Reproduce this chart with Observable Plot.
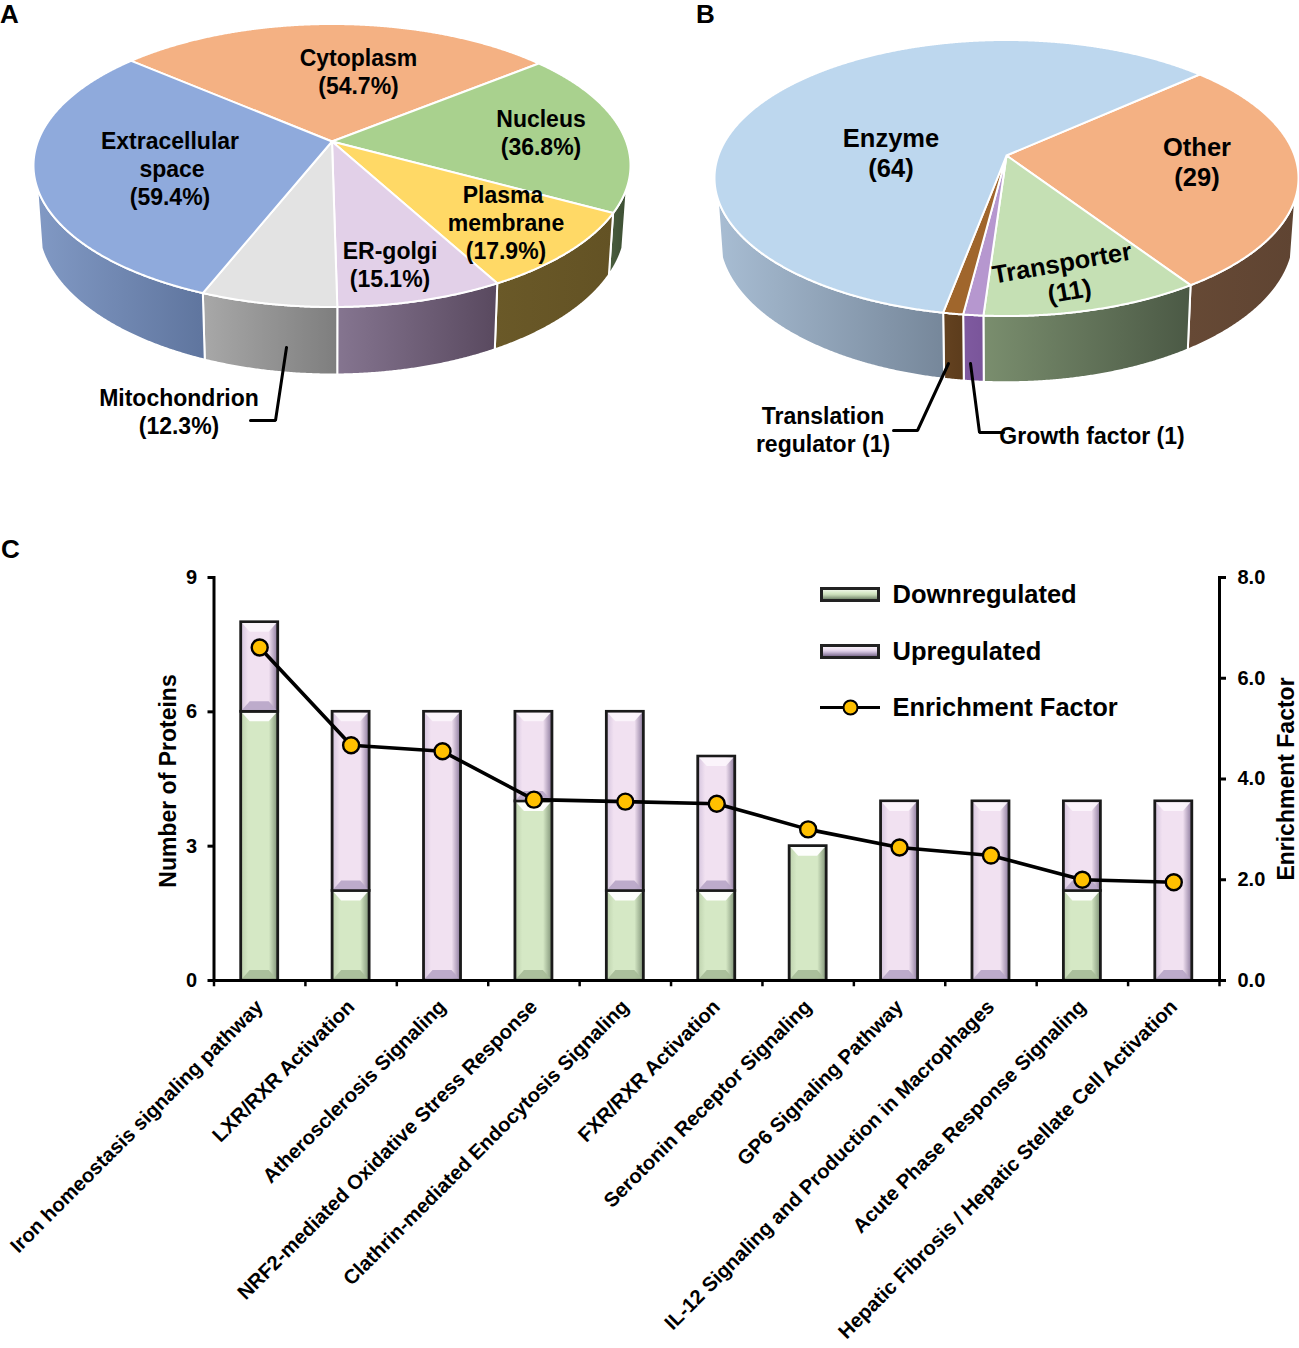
<!DOCTYPE html>
<html>
<head>
<meta charset="utf-8">
<script src="https://cdn.jsdelivr.net/npm/d3@7"></script>
<script src="https://cdn.jsdelivr.net/npm/@observablehq/plot@0.6"></script>
<style>
  html, body { margin: 0; padding: 0; background: #fff; }
  #page { position: relative; width: 1299px; height: 1348px; font-family: "Liberation Sans", Arial, sans-serif; font-weight: bold; color: #000; overflow: hidden; }
  #page svg { display: block; position: absolute; overflow: visible; background: transparent; }
  .panel { position: absolute; font-size: 26px; line-height: 30px; }
  .legend-row { position: absolute; left: 820px; height: 30px; display: flex; align-items: center; font-size: 25.5px; white-space: nowrap; }
  .swatch { box-sizing: border-box; width: 60px; height: 15px; border: 3px solid #222; margin-right: 12.5px; }
</style>
</head>
<body>
<div id="page"></div>
<script>
// ---------- data ----------
const locationNames = ["Cytoplasm", "Nucleus", "Plasma membrane", "ER-golgi", "Mitochondrion", "Extracellular space"];
const locationShares = [54.7, 36.8, 17.9, 15.1, 12.3, 59.4];
const functionNames = ["Other", "Transporter", "Growth factor", "Translation regulator", "Enzyme"];
const functionCounts = [29, 11, 1, 1, 64];

const pathways = [
  "Iron homeostasis signaling pathway", "LXR/RXR Activation", "Atherosclerosis Signaling",
  "NRF2-mediated Oxidative Stress Response", "Clathrin-mediated Endocytosis Signaling",
  "FXR/RXR Activation", "Serotonin Receptor Signaling", "GP6 Signaling Pathway",
  "IL-12 Signaling and Production in Macrophages", "Acute Phase Response Signaling",
  "Hepatic Fibrosis / Hepatic Stellate Cell Activation"
];
const downregulated = [6, 2, 0, 4, 2, 2, 3, 0, 0, 2, 0];
const upregulated = [2, 4, 6, 2, 4, 3, 0, 4, 4, 2, 4];
const enrichment = [6.61, 4.67, 4.55, 3.59, 3.55, 3.51, 3.0, 2.64, 2.48, 2.0, 1.95];
const leftTicks = [0, 3, 6, 9];
const rightTicks = [0, 2, 4, 6, 8];

// ---------- styles ----------
const locationTop = ["#F4B183", "#A9D18E", "#FFD966", "#E2D0E8", "#E3E3E3", "#8FAADC"];
const locationSide = [["#9a6f52", "#7a5a40"], ["#4a5e3e", "#3c4e33"], ["#6a5928", "#635224"], ["#857590", "#59495f"], ["#a8a8a8", "#7e7e7e"], ["#8199c4", "#5f759e"]];
const functionTop = ["#F4B183", "#C5E0B4", "#B697CF", "#A0662C", "#BDD7EE"];
const functionSide = [["#664935", "#5f4432"], ["#7a8e6e", "#4b5945"], ["#7f5aa0", "#7a559a"], ["#644220", "#5c3c1c"], ["#a8bdd3", "#76879a"]];

const pieGeometry = {
  a: { cx: 331.5, cy: 165, rx: 298.5, ry: 141.5, apexY: 141, start: -49.3, minY: 22, drop: 59 },
  b: { cx: 1006, cy: 177.5, rx: 292, ry: 138, apexY: 155, start: 48, minY: 20, drop: 58 }
};

const labelsA = [
  ["Cytoplasm", 358, 58], ["(54.7%)", 358, 86],
  ["Nucleus", 540.5, 119], ["(36.8%)", 540.5, 147],
  ["Extracellular", 169.5, 141], ["space", 171.5, 169], ["(59.4%)", 169.5, 197],
  ["Plasma", 502.5, 195], ["membrane", 505.5, 223], ["(17.9%)", 505.5, 251],
  ["ER-golgi", 389.5, 251], ["(15.1%)", 389.5, 279],
  ["Mitochondrion", 178.5, 398.5], ["(12.3%)", 178.5, 426.5]
];
const labelsB = [
  ["Enzyme", 890.5, 138, 25.5], ["(64)", 890.5, 168, 25.5],
  ["Other", 1196.5, 147, 25.5], ["(29)", 1196.5, 177, 25.5],
  ["Translation", 822.5, 416, 23], ["regulator (1)", 822.5, 444, 23],
  ["Growth factor (1)", 1091.5, 436, 23]
];
const labelsRotated = [["Transporter", 1061.5, 263], ["(11)", 1069, 291]];
const leaders = [
  [[286, 347], [275, 420], [250, 420]],
  [[948, 363], [917, 430], [893, 430]],
  [[970, 363], [979, 432], [1003, 432]]
];

// ---------- helpers ----------
function gradientDefs(list) {
  const defs = d3.create("svg:defs");
  for (const { id, stops } of list) {
    const g = defs.append("linearGradient").attr("id", id);
    stops.forEach(([o, c]) => g.append("stop").attr("offset", o).attr("stop-color", c));
  }
  return () => defs.node();
}

// a tilted circle seen in perspective: the rim is an ellipse, the centre sits above its middle
function projector({ cx, cy, rx, ry, apexY, drop }) {
  const c = apexY - cy, k = c / ry, a = rx * Math.sqrt(1 - k * k);
  return (theta) => {
    const ux = Math.sin(theta), uy = -Math.cos(theta), d = 1 + k * uy;
    const X = a * ux / d, Y = (ry * uy + c) / d;
    return { X, Y, top: [cx + X, cy + Y], bottom: [cx + 0.985 * X, cy + 1.06 * Y + drop] };
  };
}

function pieMarks(values, tops, sides, geo, prefix) {
  const project = projector(geo);
  const start = geo.start * Math.PI / 180;
  const arcs = d3.pie().sort(null).startAngle(start).endAngle(start + 2 * Math.PI)(values);
  const step = Math.PI / 720;
  const sweep = (d) => [...d3.range(d.startAngle, d.endAngle, step), d.endAngle].map(project);
  const marks = [];
  arcs.forEach((d, i) => {
    const visible = sweep(d).filter((p) => p.Y >= geo.minY);
    if (visible.length < 2) return;
    const ring = [...visible.map((p) => p.top), ...visible.map((p) => p.bottom).reverse(), visible[0].top];
    marks.push(Plot.line(ring, { x: "0", y: "1", fill: `url(#${prefix}${i})`, stroke: "#fff", strokeWidth: 2, strokeLinejoin: "round" }));
  });
  const apex = [geo.cx, geo.apexY];
  arcs.forEach((d, i) => {
    const ring = [apex, ...sweep(d).map((p) => p.top), apex];
    marks.push(Plot.line(ring, { x: "0", y: "1", fill: tops[i], stroke: "#fff", strokeWidth: 2, strokeLinejoin: "round" }));
  });
  return marks;
}

const sideDefs = (prefix, sides) => sides.map((s, i) => ({ id: `${prefix}${i}`, stops: [[0, s[0]], [1, s[1]]] }));

// ---------- pies ----------
const textBase = { text: "0", x: "1", y: "2", fontWeight: "bold", fill: "#000" };
const pies = Plot.plot({
  width: 1299, height: 530, margin: 0,
  x: { type: "identity", axis: null }, y: { type: "identity", axis: null },
  style: { fontFamily: "Liberation Sans, Arial, sans-serif", background: "transparent" },
  marks: [
    gradientDefs([...sideDefs("sa", locationSide), ...sideDefs("sb", functionSide)]),
    ...pieMarks(locationShares, locationTop, locationSide, pieGeometry.a, "sa"),
    ...pieMarks(functionCounts, functionTop, functionSide, pieGeometry.b, "sb"),
    ...leaders.map((l) => Plot.line(l, { x: "0", y: "1", stroke: "#000", strokeWidth: 3, strokeLinejoin: "miter" })),
    Plot.text(labelsA, { ...textBase, fontSize: 23 }),
    ...[23, 25.5].map((s) => Plot.text(labelsB.filter((l) => l[3] === s), { ...textBase, fontSize: s })),
    ...labelsRotated.map((l) => Plot.text([l], { ...textBase, fontSize: 25.4, rotate: -10 }))
  ]
});
pies.style.left = "0"; pies.style.top = "0";

// ---------- bar and line chart ----------
const rows = pathways.flatMap((p, i) => [
  { pathway: p, series: "Downregulated", count: downregulated[i] },
  { pathway: p, series: "Upregulated", count: upregulated[i] }
]).filter((d) => d.count > 0);
const enrichRows = pathways.map((p, i) => ({ pathway: p, value: enrichment[i] }));
const toLeft = 9 / 8;          // right axis 0-8 shares the frame with the left axis 0-9
const step = (1219 - 213.5) / pathways.length;

const axisStyle = { fontSize: 20, fontWeight: "bold", strokeWidth: 3, label: null };
const chart = Plot.plot({
  width: 1299, height: 818,
  marginTop: 47, marginBottom: 368, marginLeft: 213.5, marginRight: 80,
  x: { domain: pathways, padding: 0, round: false, label: null, axis: null },
  y: { domain: [0, 9], label: null, axis: null },
  color: { domain: ["Downregulated", "Upregulated"], range: ["url(#barDown)", "url(#barUp)"] },
  style: { fontFamily: "Liberation Sans, Arial, sans-serif", background: "transparent", color: "#000" },
  marks: [
    gradientDefs([
      { id: "barDown", stops: [[0, "#bdd1ad"], [0.2, "#d5e8c5"], [0.76, "#d5e8c5"], [1, "#7f9276"]] },
      { id: "barUp", stops: [[0, "#d3c3dd"], [0.2, "#f1e1f1"], [0.76, "#f1e1f1"], [1, "#8a789b"]] }
    ]),
    Plot.barY(rows, Plot.stackY({
      x: "pathway", y: "count", fill: "series", order: null,
      stroke: "#1a1a1a", strokeWidth: 2.8,
      insetLeft: (step - 37) / 2, insetRight: (step - 37) / 2
    })),
    Plot.frame({ anchor: "left", strokeWidth: 3 }),
    Plot.frame({ anchor: "right", strokeWidth: 3 }),
    Plot.frame({ anchor: "bottom", strokeWidth: 3 }),
    Plot.axisY(leftTicks, { ...axisStyle, anchor: "left", tickSize: 6, tickPadding: 11 }),
    Plot.axisY(rightTicks.map((t) => t * toLeft), {
      ...axisStyle, anchor: "right", tickSize: 6, tickPadding: 12,
      tickFormat: (d) => (d / toLeft).toFixed(1)
    }),
    Plot.ruleX(pathways, { x: (d) => d, y1: 0, y2: -0.14, dx: -step / 2, strokeWidth: 2.5 }),
    Plot.ruleX(pathways.slice(-1), { x: (d) => d, y1: 0, y2: -0.14, dx: step / 2, strokeWidth: 2.5 }),
    Plot.axisX({
      anchor: "bottom", tickSize: 0, tickPadding: 23, tickRotate: -45, label: null, dx: 0,
      fontSize: 20.2, fontWeight: "bold", textOverflow: null
    }),
    Plot.text(["Number of Proteins"], { text: (d) => d, frameAnchor: "left", textAnchor: "middle", rotate: -90, dx: -45, dy: 2, fontSize: 23, fontWeight: "bold" }),
    Plot.text(["Enrichment Factor"], { text: (d) => d, frameAnchor: "right", textAnchor: "middle", rotate: -90, dx: 67, fontSize: 23, fontWeight: "bold" }),
    Plot.line(enrichRows, { x: "pathway", y: (d) => d.value * toLeft, stroke: "#000", strokeWidth: 3.6 }),
    Plot.dot(enrichRows, { x: "pathway", y: (d) => d.value * toLeft, r: 8, fill: "#FFC000", stroke: "#000", strokeWidth: 2.4 })
  ]
});
chart.style.left = "0"; chart.style.top = "530px";

// bevel the bars the library drew
const bevel = {
  "url(#barDown)": { top: "#ffffff", bottom: "#a6bb97", topO: 0.95, bottomO: 0.9 },
  "url(#barUp)": { top: "#fbf4fb", bottom: "#b7a5c7", topO: 0.95, bottomO: 0.9 }
};
d3.select(chart).selectAll('g[aria-label="bar"] rect').each(function () {
  const r = d3.select(this);
  const x = +r.attr("x"), y = +r.attr("y"), w = +r.attr("width"), h = +r.attr("height");
  const b = bevel[r.attr("fill")];
  const ix = 9, iy = Math.min(10, h / 3);
  const parent = this.parentNode, next = this.nextSibling;
  const add = (pts, fill, op) => {
    const p = document.createElementNS("http://www.w3.org/2000/svg", "polygon");
    p.setAttribute("points", pts.map((q) => q.join(",")).join(" "));
    p.setAttribute("fill", fill); p.setAttribute("fill-opacity", op); p.setAttribute("stroke", "none");
    parent.insertBefore(p, next);
  };
  add([[x + 1.3, y + 1.3], [x + w - 1.3, y + 1.3], [x + w - ix, y + iy], [x + ix, y + iy]], b.top, b.topO);
  add([[x + 1.3, y + h - 1.3], [x + w - 1.3, y + h - 1.3], [x + w - ix, y + h - iy], [x + ix, y + h - iy]], b.bottom, b.bottomO);
});

const page = document.getElementById("page");
page.append(pies, chart);

// ---------- panel letters and legend ----------
[["A", 0, -1], ["B", 696, -1], ["C", 1, 534]].forEach(([t, x, y]) => {
  const d = document.createElement("div");
  d.className = "panel"; d.textContent = t; d.style.left = x + "px"; d.style.top = y + "px";
  page.append(d);
});
const legendItems = [
  ["Downregulated", 579, "linear-gradient(to bottom,#eef6e6 0%,#d5e8c5 35%,#c5d8b5 55%,#76896e 100%)"],
  ["Upregulated", 636, "linear-gradient(to bottom,#f8f0f8 0%,#e9daee 35%,#cfbfdb 55%,#7f6e91 100%)"]
];
legendItems.forEach(([t, y, bg]) => {
  const row = document.createElement("div");
  row.className = "legend-row"; row.style.top = y + "px";
  const s = document.createElement("div");
  s.className = "swatch"; s.style.background = bg;
  row.append(s, document.createTextNode(t));
  page.append(row);
});
const lineRow = document.createElement("div");
lineRow.className = "legend-row"; lineRow.style.top = "692px";
const key = Plot.plot({
  width: 60, height: 20, margin: 0,
  x: { type: "identity", axis: null }, y: { type: "identity", axis: null },
  marks: [
    Plot.ruleY([10], { x1: 0, x2: 60, stroke: "#000", strokeWidth: 3.2 }),
    Plot.dot([[30, 10]], { x: "0", y: "1", r: 7, fill: "#FFC000", stroke: "#000", strokeWidth: 2 })
  ]
});
key.style.position = "static"; key.style.marginRight = "12.5px"; key.style.flex = "none";
lineRow.append(key, document.createTextNode("Enrichment Factor"));
page.append(lineRow);
</script>
</body>
</html>
